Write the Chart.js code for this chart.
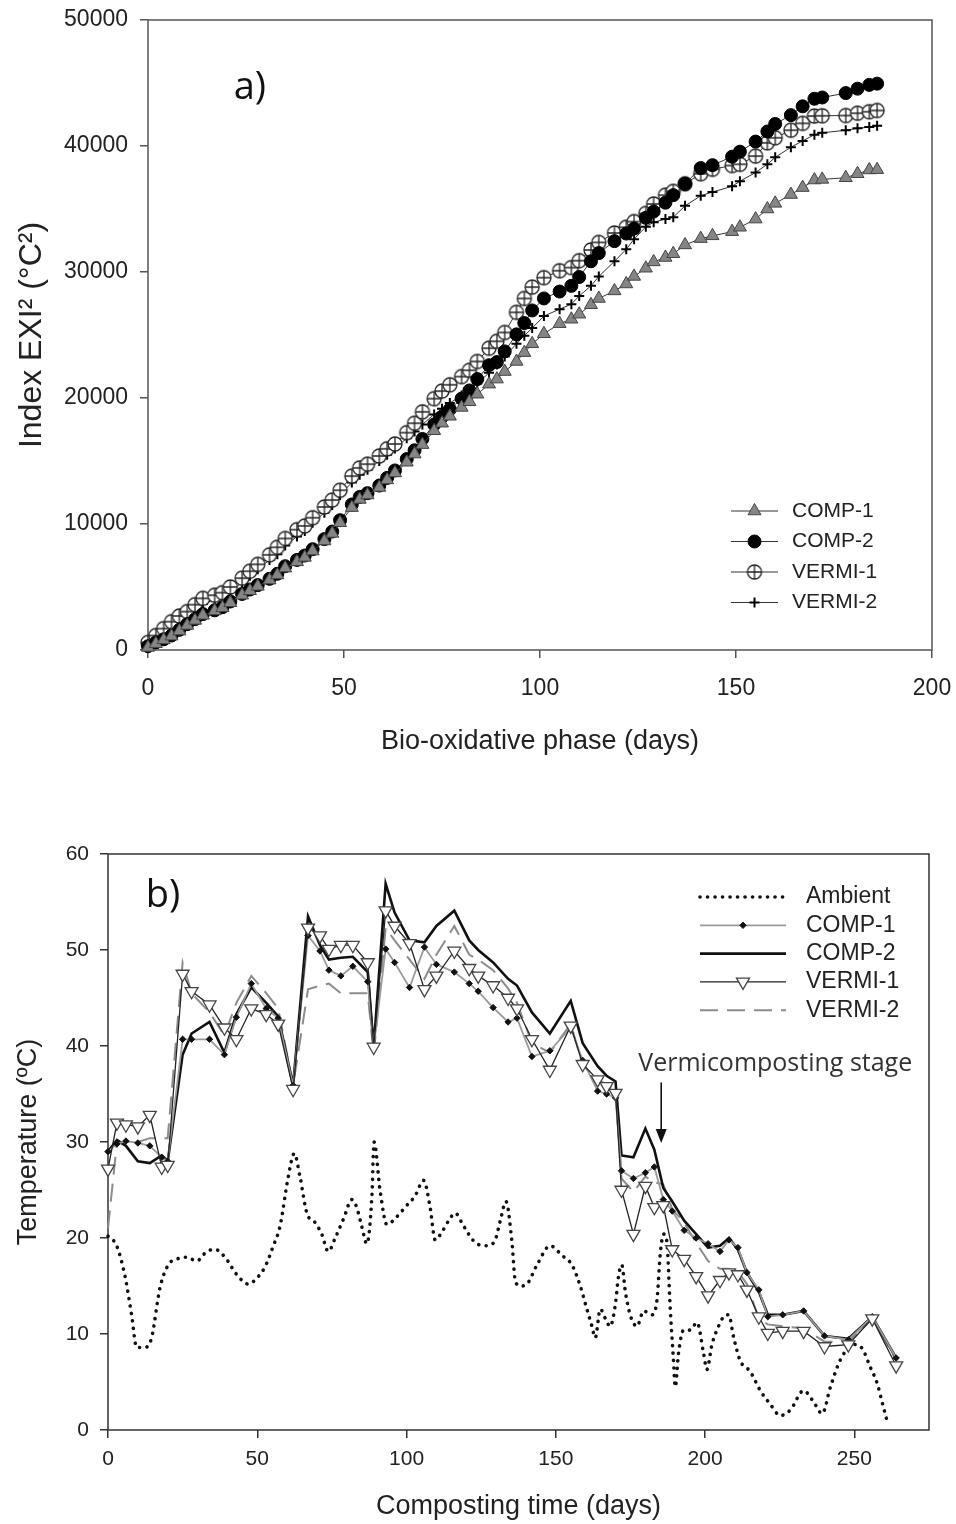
<!DOCTYPE html>
<html>
<head>
<meta charset="utf-8">
<title>EXI2 index and temperature during composting</title>
<script src="https://cdn.jsdelivr.net/npm/chart.js@4.4.1/dist/chart.umd.min.js"></script>
<style>
  html, body { margin: 0; padding: 0; background: #fff; }
  #page { position: relative; width: 956px; height: 1524px; }
  .panel { position: absolute; left: 0; }
  #panelA { top: 0; }
  #panelB { top: 775px; }
</style>
</head>
<body>
<div id="page">
  <div class="panel" id="panelA"><canvas id="exiChart" width="956" height="775"></canvas></div>
  <div class="panel" id="panelB"><canvas id="tempChart" width="956" height="749"></canvas></div>
</div>
<script>
// ---- a) cumulative EXI2 index, bio-oxidative phase ----
const exiDays = [0, 2, 4, 6, 8, 10, 12, 14, 17, 19, 21, 24, 26, 28, 31, 33, 35, 38, 40, 42,
  45, 47, 49, 52, 54, 56, 59, 61, 63, 66, 68, 70, 73, 75, 77, 80, 82, 84, 87, 89,
  91, 94, 96, 98, 101, 105, 108, 110, 113, 115, 119, 122, 124, 127, 129, 132, 134, 137, 141, 144,
  149, 151, 155, 158, 160, 164, 167, 170, 172, 178, 181, 184, 186];
const exiComp1 = [200, 500, 800, 1100, 1500, 1950, 2350, 2750, 3100, 3350, 3750, 4350, 4700, 5050, 5550, 5950, 6500, 7000, 7350, 7850,
  8650, 9250, 10100, 11300, 11950, 12300, 12900, 13500, 14050, 14900, 15550, 16300, 17400, 18000, 18550, 19250, 19700, 20300, 21100, 21500,
  22100, 22900, 23600, 24300, 25100, 25900, 26250, 26650, 27400, 27900, 28500, 29050, 29650, 30300, 30800, 31150, 31450, 32150, 32650, 32870,
  33200, 33550, 34200, 35000, 35450, 36150, 36700, 37300, 37350, 37480, 37800, 38100, 38120];
const exiComp2 = [300, 600, 850, 1150, 1600, 2050, 2450, 2850, 3150, 3400, 3850, 4450, 4800, 5150, 5650, 6050, 6650, 7150, 7500, 8000,
  8800, 9400, 10300, 11550, 12150, 12450, 13050, 13660, 14250, 15150, 15850, 16750, 17900, 18500, 19100, 19950, 20600, 21500, 22600, 22850,
  23700, 25050, 25950, 26950, 27900, 28450, 28900, 29600, 30850, 31500, 32450, 33050, 33450, 34300, 34800, 35500, 36100, 37000, 38250, 38480,
  39150, 39550, 40350, 41150, 41750, 42450, 43150, 43750, 43850, 44200, 44550, 44850, 44950];
const exiVermi1 = [600, 1150, 1700, 2250, 2700, 3050, 3600, 4100, 4350, 4550, 5000, 5700, 6250, 6800, 7550, 8150, 8850, 9550, 9850, 10500,
  11350, 11900, 12680, 13800, 14450, 14750, 15400, 15970, 16350, 17250, 18000, 18900, 19950, 20550, 21050, 21700, 22200, 22900, 23950, 24500,
  25200, 26800, 27900, 28800, 29550, 30100, 30350, 30900, 31750, 32350, 33100, 33550, 34000, 34650, 35400, 36100, 36400, 37000, 37800, 38150,
  38450, 38550, 39200, 40250, 40650, 41250, 41800, 42380, 42400, 42420, 42600, 42720, 42820];
const exiVermi2 = [400, 900, 1400, 1900, 2350, 2750, 3200, 3650, 4000, 4300, 4700, 5350, 5900, 6400, 7150, 7600, 8300, 9000, 9450, 10100,
  10900, 11500, 12300, 13300, 13900, 14300, 15000, 15500, 16000, 16800, 17350, 17900, 18700, 19150, 19600, 20200, 20650, 21150, 22000, 22650,
  23300, 24300, 24950, 25550, 26500, 27050, 27450, 28100, 28900, 29650, 30850, 31800, 32600, 33600, 33950, 34200, 34350, 35250, 36050, 36350,
  36800, 37200, 37900, 38550, 39100, 39900, 40400, 40900, 41050, 41250, 41400, 41500, 41600];
const exiXTicks = [0, 50, 100, 150, 200];
const exiYTicks = [0, 10000, 20000, 30000, 40000, 50000];

// ---- b) temperature profiles ----
const tempDays = [0, 3, 6, 10, 14, 18, 20, 25, 28, 34, 39, 43, 48, 53, 57, 62, 67, 71, 74, 78,
  82, 87, 89, 93, 96, 101, 106, 110, 116, 121, 124, 129, 134, 137, 142, 148, 155, 159, 164, 167,
  170, 172, 176, 180, 183, 186, 189, 193, 197, 201, 205, 208, 211, 214, 218, 221, 226, 233, 240, 248,
  256, 264];
const tempComp1 = [29.0, 29.8, 30.1, 29.9, 29.6, 28.4, 28.0, 40.7, 40.7, 40.7, 39.1, 43.0, 46.5, 43.9, 42.9, 35.9, 51.5, 49.9, 47.9, 47.3,
  48.3, 46.7, 39.9, 50.1, 48.7, 46.1, 50.3, 48.5, 47.7, 46.5, 45.7, 44.0, 42.5, 42.9, 38.9, 39.5, 41.9, 38.5, 35.3, 35.0,
  34.6, 27.0, 26.2, 26.8, 27.4, 24.0, 22.8, 20.8, 20.0, 19.4, 18.6, 19.8, 19.0, 16.4, 14.6, 11.8, 12.0, 12.4, 9.8, 9.4,
  11.8, 7.5];
const tempComp2 = [29.0, 30.2, 29.6, 28.0, 27.8, 28.6, 28.0, 39.1, 41.3, 42.5, 39.3, 43.3, 46.1, 44.5, 43.1, 35.9, 53.5, 50.5, 49.0, 49.2,
  49.3, 47.7, 39.9, 56.9, 53.9, 51.0, 50.8, 52.5, 54.1, 51.0, 50.0, 48.7, 47.0, 46.3, 43.5, 41.3, 44.7, 40.3, 37.9, 36.9,
  36.3, 28.6, 28.4, 31.4, 29.2, 25.2, 23.8, 21.8, 20.4, 19.0, 19.2, 20.0, 18.8, 16.4, 14.4, 12.0, 12.0, 12.4, 9.8, 9.5,
  11.8, 7.5];
const tempVermi1 = [27.2, 32.0, 31.8, 31.6, 32.8, 27.4, 27.6, 47.5, 45.7, 44.3, 41.9, 40.7, 43.9, 43.3, 42.3, 35.5, 52.3, 51.5, 50.1, 50.5,
  50.5, 48.7, 39.9, 54.1, 52.5, 50.7, 45.9, 47.3, 49.9, 48.1, 47.3, 46.3, 45.0, 43.9, 40.7, 37.5, 42.1, 38.1, 36.5, 35.8,
  35.1, 25.0, 20.4, 25.4, 23.2, 23.4, 18.8, 17.8, 16.0, 14.0, 15.6, 16.4, 16.2, 14.6, 11.8, 10.1, 10.3, 10.3, 8.7, 8.9,
  11.6, 6.7];
const tempVermi2 = [21.0, 30.0, 30.0, 30.0, 30.4, 30.4, 30.4, 48.7, 45.5, 43.5, 41.1, 44.5, 47.3, 45.5, 43.9, 35.9, 45.9, 46.3, 46.5, 45.5,
  45.5, 45.5, 39.1, 52.3, 51.0, 49.0, 47.0, 49.5, 52.5, 49.5, 49.0, 47.9, 46.0, 44.5, 40.3, 39.3, 42.3, 38.0, 36.5, 36.0,
  35.5, 26.2, 24.8, 26.4, 25.8, 25.6, 23.0, 21.6, 19.5, 17.6, 16.8, 16.8, 16.5, 15.2, 11.6, 11.0, 10.8, 10.6, 9.2, 9.2,
  11.6, 7.3];
const ambientDays = [0, 2.9, 5.7, 7.9, 9.6, 12.4, 14.6, 17.4, 20.2, 23, 26.4, 29.7, 33.1, 35.9, 39.2, 43.1, 47, 49.8, 52.6, 55.4,
  57.6, 60.4, 62.4, 64.3, 66.6, 69.4, 71.6, 73.8, 76.1, 78.9, 81.7, 83.3, 85, 86.7, 88.4, 89.1, 91.2, 93.4, 96.7, 99.5,
  102.9, 105.7, 107.9, 109.6, 111.8, 114.1, 116.3, 118.5, 120.8, 123.5, 126.9, 129.7, 131.4, 133.3, 135.3, 136.4, 138.1, 140.3, 143.7, 148.1,
  152, 155.4, 158.2, 160.4, 162.1, 163.2, 164.9, 166.6, 168.2, 169.9, 171, 172.1, 173.3, 174.9, 177.2, 179.4, 182.2, 183.9, 185, 186.1,
  187.2, 188.3, 189.4, 190, 191.1, 192.8, 195, 197.3, 199.5, 200.6, 202.3, 204.5, 206.2, 207.9, 209.6, 211.8, 215.1, 218.5, 221.8, 225.2,
  228.6, 233, 236.4, 239.2, 242, 245.3, 249.8, 252.6, 255.4, 257.6, 259.3, 261];
const ambientTemp = [20.2, 19.2, 16.0, 12.0, 8.6, 8.6, 9.6, 14.8, 17.2, 17.8, 18.0, 17.6, 18.6, 18.8, 18.0, 16.2, 15.2, 15.8, 17.0, 19.2,
  21.2, 26.4, 28.8, 26.4, 22.6, 21.6, 20.4, 18.6, 20.0, 22.0, 24.0, 23.2, 21.2, 19.4, 24.4, 30.0, 24.8, 21.4, 22.2, 23.2,
  24.4, 26.0, 23.2, 19.8, 20.6, 21.8, 22.6, 21.6, 20.4, 19.4, 19.2, 19.8, 21.8, 23.8, 19.6, 15.6, 15.0, 15.2, 17.2, 19.2,
  18.2, 17.2, 15.0, 12.6, 10.8, 9.6, 12.6, 11.6, 10.8, 13.0, 16.0, 17.2, 14.4, 12.0, 10.8, 12.4, 12.0, 13.6, 18.4, 20.4,
  19.6, 12.8, 7.3, 4.5, 8.0, 10.4, 10.4, 11.2, 8.0, 6.3, 8.9, 10.8, 11.8, 12.0, 9.6, 7.2, 6.1, 4.1, 2.7, 1.5,
  2.1, 4.1, 2.9, 1.7, 4.5, 7.3, 8.9, 8.5, 6.5, 4.9, 2.9, 0.9];
const tempXTicks = [0, 50, 100, 150, 200, 250];
const tempYTicks = [0, 10, 20, 30, 40, 50, 60];

const FONT = '"Liberation Sans", Arial, sans-serif';
const TEXT = '#222';

const toPoints = (xs, ys) => xs.map((x, i) => ({ x, y: ys[i] }));

// circle with a plus inside, used as VERMI-1 marker in panel a
const crossCircle = (r) => {
  const size = Math.ceil(r * 2 + 4);
  const c = document.createElement('canvas');
  c.width = c.height = size;
  const g = c.getContext('2d');
  const m = size / 2;
  g.fillStyle = '#fff';
  g.strokeStyle = '#222';
  g.lineWidth = 1.3;
  g.beginPath();
  g.arc(m, m, r, 0, Math.PI * 2);
  g.fill();
  g.stroke();
  g.beginPath();
  g.moveTo(m - r, m); g.lineTo(m + r, m);
  g.moveTo(m, m - r); g.lineTo(m, m + r);
  g.stroke();
  return c;
};

// box round the plotting area
const frame = {
  id: 'frame',
  beforeDatasetsDraw(chart, args, opts) {
    const { left, top, right, bottom } = chart.chartArea;
    const ctx = chart.ctx;
    ctx.save();
    ctx.strokeStyle = opts.color;
    ctx.lineWidth = opts.width;
    ctx.strokeRect(left, top, right - left, bottom - top);
    ctx.restore();
  }
};

// legend drawn inside the plot, line sample + marker + label
const sampleLegend = {
  id: 'sampleLegend',
  afterDatasetsDraw(chart, args, opts) {
    const ctx = chart.ctx;
    chart.data.datasets.forEach((ds, i) => {
      const y = opts.top + i * opts.rowGap;
      const x0 = opts.left;
      const x1 = opts.left + opts.lineLength;
      ctx.save();
      ctx.strokeStyle = ds.borderColor;
      ctx.lineWidth = ds.borderWidth;
      ctx.lineCap = ds.borderCapStyle || 'butt';
      ctx.setLineDash(ds.borderDash || []);
      ctx.beginPath();
      ctx.moveTo(x0, y);
      ctx.lineTo(x1, y);
      ctx.stroke();
      ctx.setLineDash([]);
      if (ds.pointRadius > 0) {
        ctx.fillStyle = ds.pointBackgroundColor;
        ctx.strokeStyle = ds.pointBorderColor;
        ctx.lineWidth = ds.pointBorderWidth;
        Chart.helpers.drawPoint(ctx, {
          pointStyle: ds.pointStyle,
          rotation: ds.pointRotation || 0,
          radius: ds.pointRadius,
          borderWidth: ds.pointBorderWidth
        }, (x0 + x1) / 2, y);
      }
      ctx.fillStyle = TEXT;
      ctx.font = opts.font;
      ctx.textBaseline = 'middle';
      ctx.textAlign = 'left';
      ctx.fillText(ds.label, opts.textLeft, y);
      ctx.restore();
    });
  }
};

// panel letters, free text and arrows, placed in data units
const panelNotes = {
  id: 'panelNotes',
  afterDraw(chart, args, opts) {
    const { ctx, scales: { x, y } } = chart;
    (opts.texts || []).forEach(t => {
      ctx.save();
      ctx.font = t.font;
      ctx.fillStyle = t.color || '#111';
      ctx.textAlign = 'center';
      ctx.textBaseline = 'middle';
      ctx.fillText(t.text, x.getPixelForValue(t.x), y.getPixelForValue(t.y));
      ctx.restore();
    });
    (opts.arrows || []).forEach(a => {
      const px = x.getPixelForValue(a.x);
      const py0 = y.getPixelForValue(a.from);
      const py1 = y.getPixelForValue(a.to);
      ctx.save();
      ctx.strokeStyle = '#111';
      ctx.fillStyle = '#111';
      ctx.lineWidth = 1.6;
      ctx.beginPath();
      ctx.moveTo(px, py0);
      ctx.lineTo(px, py1 - 12);
      ctx.stroke();
      ctx.beginPath();
      ctx.moveTo(px, py1);
      ctx.lineTo(px - 5.5, py1 - 14);
      ctx.lineTo(px + 5.5, py1 - 14);
      ctx.closePath();
      ctx.fill();
      ctx.restore();
    });
  }
};

const axis = ({ min, max, ticks, size, tickFont, padding, title, titleFont, titlePadding, color }) => ({
  type: 'linear',
  min, max,
  afterBuildTicks: s => { s.ticks = ticks.map(v => ({ value: v })); },
  afterFit: s => {
    if (s.isHorizontal()) s.height = size; else s.width = size;
    // edge labels may hang outside the plot; layout padding handles the room
    s.paddingLeft = s.paddingRight = s.paddingTop = s.paddingBottom = 0;
  },
  border: { display: false },
  grid: { drawOnChartArea: false, drawTicks: true, tickLength: 8, color, lineWidth: 1.5 },
  ticks: { font: { family: FONT, size: tickFont }, color: TEXT, padding, maxRotation: 0, callback: v => String(v) },
  title: { display: true, text: title, color: TEXT, font: { family: FONT, size: titleFont }, padding: titlePadding }
});

const baseOptions = (padding) => ({
  responsive: false,
  animation: false,
  events: [],
  layout: { padding },
  elements: { line: { tension: 0 } },
  datasets: { line: { clip: false } }
});

// panel a)
new Chart(document.getElementById('exiChart'), {
  type: 'line',
  data: {
    datasets: [
      { label: 'COMP-1', data: toPoints(exiDays, exiComp1), borderColor: '#333', borderWidth: 1,
        pointStyle: 'triangle', pointRadius: 7.5, pointBackgroundColor: '#858585', pointBorderColor: '#444', pointBorderWidth: 1 },
      { label: 'COMP-2', data: toPoints(exiDays, exiComp2), borderColor: '#333', borderWidth: 1,
        pointStyle: 'circle', pointRadius: 6.5, pointBackgroundColor: '#000', pointBorderColor: '#000', pointBorderWidth: 1 },
      { label: 'VERMI-1', data: toPoints(exiDays, exiVermi1), borderColor: '#333', borderWidth: 1,
        pointStyle: crossCircle(7), pointRadius: 7, pointBackgroundColor: '#fff', pointBorderColor: '#222', pointBorderWidth: 1.3 },
      { label: 'VERMI-2', data: toPoints(exiDays, exiVermi2), borderColor: '#333', borderWidth: 1,
        pointStyle: 'cross', pointRadius: 5, pointBackgroundColor: '#000', pointBorderColor: '#000', pointBorderWidth: 2 }
    ]
  },
  options: {
    ...baseOptions({ top: 20, right: 24, left: 0, bottom: 0 }),
    plugins: {
      legend: { display: false },
      tooltip: { enabled: false },
      frame: { color: '#555', width: 1.5 },
      sampleLegend: { left: 731, lineLength: 47, textLeft: 792, top: 511, rowGap: 30.5, font: '21px ' + FONT },
      panelNotes: { texts: [{ text: 'a)', x: 26, y: 44600, font: '38px "Open Sans", sans-serif' }] }
    },
    scales: {
      x: axis({ min: 0, max: 200, ticks: exiXTicks, size: 125, tickFont: 23, padding: 17,
        title: 'Bio-oxidative phase (days)', titleFont: 27, titlePadding: { top: 0, bottom: 17 }, color: '#555' }),
      y: axis({ min: 0, max: 50000, ticks: exiYTicks, size: 148, tickFont: 23, padding: 12,
        title: 'Index EXI² (°C²)', titleFont: 32, titlePadding: { top: 13, bottom: 0 }, color: '#555' })
    }
  },
  plugins: [frame, sampleLegend, panelNotes]
});

// panel b)
new Chart(document.getElementById('tempChart'), {
  type: 'line',
  data: {
    datasets: [
      { label: 'Ambient', data: toPoints(ambientDays, ambientTemp), borderColor: '#111', borderWidth: 3.6,
        borderDash: [0.1, 7.4], borderCapStyle: 'round', cubicInterpolationMode: 'monotone', pointRadius: 0 },
      { label: 'COMP-1', data: toPoints(tempDays, tempComp1), borderColor: '#9a9a9a', borderWidth: 1.8,
        pointStyle: 'rectRot', pointRadius: 3.2, pointBackgroundColor: '#111', pointBorderColor: '#111', pointBorderWidth: 1 },
      { label: 'COMP-2', data: toPoints(tempDays, tempComp2), borderColor: '#111', borderWidth: 2.6, pointRadius: 0 },
      { label: 'VERMI-1', data: toPoints(tempDays, tempVermi1), borderColor: '#222', borderWidth: 1.3, order: -1,
        pointStyle: 'triangle', pointRotation: 180, pointRadius: 7.5, pointBackgroundColor: '#fff', pointBorderColor: '#444', pointBorderWidth: 1.3 },
      { label: 'VERMI-2', data: toPoints(tempDays, tempVermi2), borderColor: '#8c8c8c', borderWidth: 2,
        borderDash: [18, 9], pointRadius: 0 }
    ]
  },
  options: {
    ...baseOptions({ top: 79, right: 27, left: 0, bottom: 0 }),
    plugins: {
      legend: { display: false },
      tooltip: { enabled: false },
      frame: { color: '#333', width: 1.5 },
      sampleLegend: { left: 700, lineLength: 86, textLeft: 806, top: 122, rowGap: 28.3, font: '23px ' + FONT },
      panelNotes: {
        texts: [
          { text: 'b)', x: 18.4, y: 55.6, font: '38px "Open Sans", sans-serif' },
          { text: 'Vermicomposting stage', x: 223.5, y: 38.1, font: '25px "Open Sans", sans-serif', color: '#333' }
        ],
        arrows: [{ x: 185.3, from: 36.2, to: 29.9 }]
      }
    },
    scales: {
      x: axis({ min: 0, max: 275, ticks: tempXTicks, size: 94, tickFont: 21, padding: 9,
        title: 'Composting time (days)', titleFont: 27, titlePadding: { top: 0, bottom: 1 }, color: '#333' }),
      y: axis({ min: 0, max: 60, ticks: tempYTicks, size: 108, tickFont: 21, padding: 11,
        title: 'Temperature (ºC)', titleFont: 27, titlePadding: { top: 12, bottom: 0 }, color: '#333' })
    }
  },
  plugins: [frame, sampleLegend, panelNotes]
});
</script>
</body>
</html>
